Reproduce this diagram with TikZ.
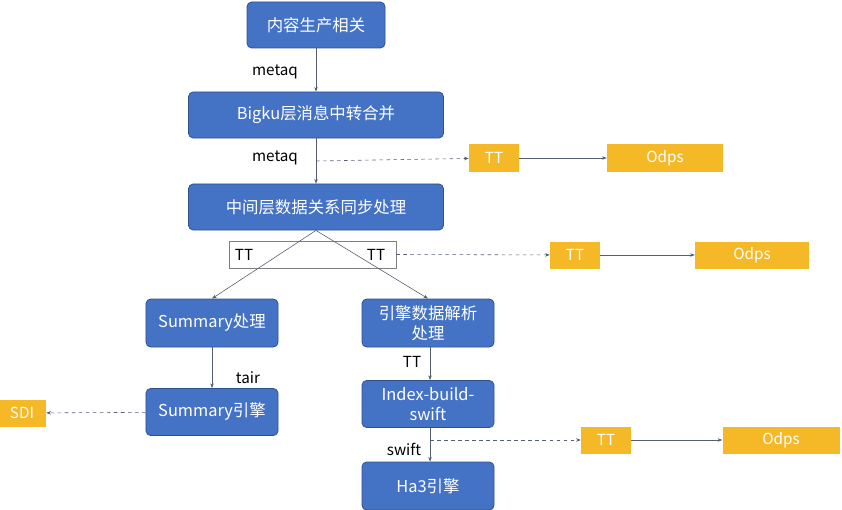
\documentclass[tikz,border=0pt]{standalone}
\usepackage{fontspec}
\setmainfont{Noto Sans CJK SC}
\usepackage{tikz}
\usetikzlibrary{arrows.meta,calc}
\definecolor{boxblue}{RGB}{68,114,196}
\definecolor{boxline}{RGB}{47,82,143}
\definecolor{boxorange}{RGB}{245,185,40}
\definecolor{linkgray}{RGB}{85,95,115}

\begin{document}
\begin{tikzpicture}[x=0.03cm, y=-0.03cm,
        font=\fontsize{13}{16}\selectfont,
        blue box/.style={draw=boxline, fill=boxblue, text=white, rounded corners=4pt, line width=0.7pt, align=center, inner sep=2pt, font=\fontsize{14}{17}\selectfont},
        orange box/.style={fill=boxorange, text=white, minimum height=0.81cm, inner sep=2pt},
        link/.style={draw=linkgray, line width=0.5pt, -{Stealth[length=4pt,width=3pt]}},
        dlink/.style={link, dashed}]
        \useasboundingbox (0,0) rectangle (842,510);
        \node[blue box, minimum width=4.14cm, minimum height=1.38cm] (src) at (316,25) {内容生产相关};
        \node[blue box, minimum width=7.65cm, minimum height=1.38cm] (big) at (316,115) {Bigku层消息中转合并};
        \node[blue box, minimum width=7.65cm, minimum height=1.38cm] (mid) at (316,207) {中间层数据关系同步处理};
        \node[draw=gray, minimum width=5.01cm, minimum height=0.81cm] (ttbox) at (312.5,254.5) {};
        \node (ttl) at (244,255) {TT};
        \node (ttr) at (376,255) {TT};
        \node[blue box, minimum width=3.96cm, minimum height=1.44cm] (sum) at (212,323) {Summary处理};
        \node[blue box, minimum width=3.96cm, minimum height=1.44cm] (eng) at (428,323) {引擎数据解析\\处理};
        \node[blue box, minimum width=3.96cm, minimum height=1.41cm] (sumeng) at (212,412) {Summary引擎};
        \node[blue box, minimum width=3.96cm, minimum height=1.41cm] (idx) at (428,404) {Index-build-\\swift};
        \node[blue box, minimum width=3.96cm, minimum height=1.44cm] (ha) at (428,486) {Ha3引擎};
        \node[orange box, minimum width=1.44cm] (sdi) at (22,413) {SDI};
        \node[orange box, minimum width=1.5cm] (tta) at (494,158) {TT};
        \node[orange box, minimum width=3.48cm] (odpsa) at (665,158) {Odps};
        \node[orange box, minimum width=1.5cm] (ttb) at (575,255) {TT};
        \node[orange box, minimum width=3.42cm] (odpsb) at (752,255) {Odps};
        \node[orange box, minimum width=1.5cm] (ttc) at (606,440) {TT};
        \node[orange box, minimum width=3.51cm] (odpsc) at (781,440) {Odps};
        \coordinate (da) at ($(big.south)!0.5!(mid.north)$);
        \coordinate (dc) at (430,440);
        \draw[link] (src) -- (big);
        \node at (275,72) {metaq};
        \draw[link] (big) -- (mid);
        \node at (275,158) {metaq};
        \draw[dlink] (da) -- (tta);
        \draw[link] (tta) -- (odpsa);
        \draw[link] (mid.south) -- (sum.north);
        \draw[link] (mid.south) -- (eng.north);
        \draw[dlink] (ttbox.east) -- (ttb);
        \draw[link] (ttb) -- (odpsb);
        \draw[link] (sum) -- (sumeng);
        \node at (248,378) {tair};
        \draw[dlink] (sumeng) -- (sdi);
        \draw[link] (eng.south -| 430,0) -- (idx.north -| 430,0);
        \node at (412,362) {TT};
        \draw[link] (idx.south -| 430,0) -- (ha.north -| 430,0);
        \node at (404,449) {swift};
        \draw[dlink] (dc) -- (ttc);
        \draw[link] (ttc) -- (odpsc);
\end{tikzpicture}
\end{document}
